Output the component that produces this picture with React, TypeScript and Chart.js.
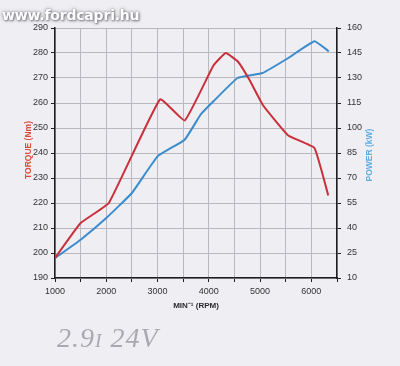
import React, { useEffect, useRef } from "react";
import { Chart, registerables } from "chart.js";

Chart.register(...registerables);

const torqueRpm = [1000, 1500, 2050, 3050, 3530, 4090, 4330, 4570, 4800, 5060, 5550, 6060, 6330];
const torqueNm = [198, 212, 220, 261.5, 253, 275, 280, 276.5, 269, 259, 247, 242, 223];
const powerRpm = [1000, 1500, 2000, 2500, 3000, 3530, 3840, 4090, 4560, 5050, 5550, 6060, 6340];
const powerKw = [22, 33, 46, 61, 83, 93, 108, 116, 130, 133, 142, 152, 146];
const rpmTicks = [1000, 1500, 2000, 2500, 3000, 3500, 4000, 4500, 5000, 5500, 6000, 6500];
const torqueTicks = [190, 200, 210, 220, 230, 240, 250, 260, 270, 280, 290];
const powerTicks = [10, 25, 40, 55, 70, 85, 100, 115, 130, 145, 160];
const xTitle = "MIN⁻¹ (RPM)";
const torqueTitle = "TORQUE (Nm)";
const powerTitle = "POWER (kW)";

const BG = "#efeef2";
const AXIS = "#1e1e22";
const GRID = "#b9b8be";
const TICKFONT = { family: "'Liberation Sans', Arial, sans-serif", size: 9 };

const titlePlugin = {
  id: "axisTitles",
  afterDraw(chart: any) {
    const { ctx, chartArea } = chart;
    ctx.save();
    ctx.font = "bold 8px 'Liberation Sans', Arial, sans-serif";
    ctx.textAlign = "center";
    ctx.textBaseline = "middle";
    ctx.fillStyle = "#2a2a2e";
    ctx.fillText(xTitle, (chartArea.left + chartArea.right) / 2, 306);
    ctx.font = "bold 8.5px 'Liberation Sans', Arial, sans-serif";
    ctx.save();
    ctx.translate(29, 150);
    ctx.rotate(-Math.PI / 2);
    ctx.fillStyle = "#dd4a3e";
    ctx.fillText(torqueTitle, 0, 0);
    ctx.restore();
    ctx.save();
    ctx.translate(370, 155);
    ctx.rotate(-Math.PI / 2);
    ctx.fillStyle = "#5eaee2";
    ctx.fillText(powerTitle, 0, 0);
    ctx.restore();
    ctx.restore();
  },
};

export default function App() {
  const ref = useRef<HTMLCanvasElement>(null);
  useEffect(() => {
    document.body.style.margin = "0";
    document.body.style.background = BG;
    const chart = new Chart(ref.current!, {
      type: "line",
      data: {
        datasets: [
          {
            label: "Torque",
            data: torqueRpm.map((x, i) => ({ x, y: torqueNm[i] })),
            borderColor: "#c9303c",
            borderWidth: 2,
            pointRadius: 0,
            tension: 0.1,
            yAxisID: "y",
          },
          {
            label: "Power",
            data: powerRpm.map((x, i) => ({ x, y: powerKw[i] })),
            borderColor: "#3b8ccc",
            borderWidth: 2,
            pointRadius: 0,
            tension: 0.1,
            yAxisID: "y1",
          },
        ],
      },
      options: {
        responsive: false,
        animation: false,
        devicePixelRatio: 1,
        layout: { padding: { left: 0, right: 0, top: 28, bottom: 48 } },
        plugins: { legend: { display: false }, tooltip: { enabled: false } },
        scales: {
          x: {
            type: "linear",
            min: 1000,
            max: 6500,
            afterBuildTicks: (s: any) => { s.ticks = rpmTicks.map((v) => ({ value: v })); },
            afterFit: (s: any) => { s.height = 40; },
            grid: { color: GRID, tickColor: AXIS, tickLength: 4, lineWidth: 1 },
            border: { color: AXIS, width: 1.5 },
            ticks: {
              color: "#333",
              font: TICKFONT,
              padding: 4,
              maxRotation: 0,
              autoSkip: false,
              callback: (v: any) => (v % 1000 === 0 && v <= 6000 ? String(v) : ""),
            },
          },
          y: {
            position: "left",
            min: 190,
            max: 290,
            afterBuildTicks: (s: any) => { s.ticks = torqueTicks.map((v) => ({ value: v })); },
            afterFit: (s: any) => { s.width = 55; },
            grid: { color: GRID, tickColor: AXIS, tickLength: 4 },
            border: { color: AXIS, width: 1.5 },
            ticks: { color: "#333", font: TICKFONT, padding: 3 },
          },
          y1: {
            position: "right",
            min: 10,
            max: 160,
            afterBuildTicks: (s: any) => { s.ticks = powerTicks.map((v) => ({ value: v })); },
            afterFit: (s: any) => { s.width = 63; },
            grid: { drawOnChartArea: false, tickColor: AXIS, tickLength: 4 },
            border: { color: AXIS, width: 1.5 },
            ticks: { color: "#333", font: TICKFONT, padding: 6 },
          },
        },
      },
      plugins: [titlePlugin],
    });
    return () => chart.destroy();
  }, []);

  return (
    <div style={{ position: "fixed", left: 0, top: 0, width: 400, height: 366, background: BG, overflow: "hidden" }}>
      <canvas ref={ref} width={400} height={366} style={{ position: "absolute", left: 0, top: 0 }} />
      <div
        style={{
          position: "absolute",
          left: 2,
          top: 7,
          font: "bold 14px 'DejaVu Sans', Verdana, sans-serif",
          color: "#ffffff",
          letterSpacing: "-0.2px",
          textShadow: "0 0 2px #8a8a90, 1px 1px 2px #808086, 0 0 4px #9a9aa0",
        }}
      >
        www.fordcapri.hu
      </div>
      <div
        style={{
          position: "absolute",
          left: 57,
          top: 322,
          font: "italic 28px 'Liberation Serif', 'DejaVu Serif', serif",
          color: "#aaa9af",
          letterSpacing: "1px",
        }}
      >
        2.9<span style={{ fontSize: "0.7em" }}>I</span> 24V
      </div>
    </div>
  );
}
